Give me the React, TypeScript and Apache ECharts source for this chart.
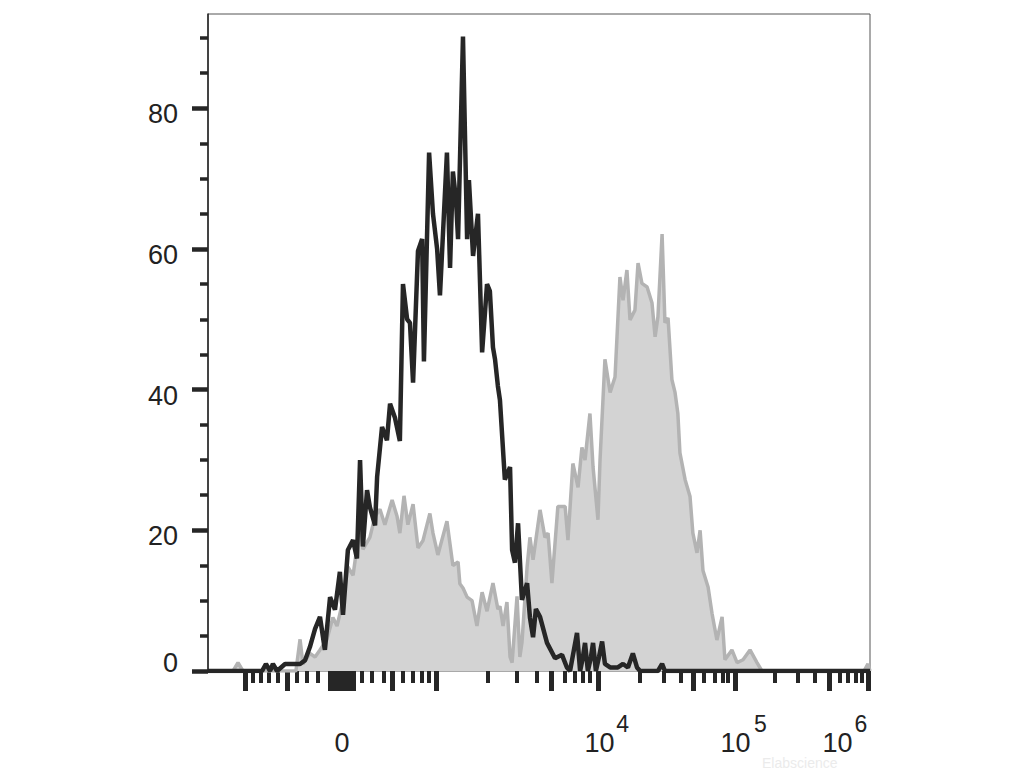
import React, { useEffect, useRef } from "react";
import * as echarts from "echarts";

// Display scale: 256 channels across the biexponential axis
const CHANNELS = 256;
const Y_MAX = 93.4;

// Unstained / isotype (black line) histogram: [channel, count]
const blackX = [0, 20.9, 22.4, 24.0, 25.1, 26.7, 29.8, 35.6, 37.5, 39.4, 41.4, 43.3, 45.2, 47.2, 49.1, 51.0, 52.2, 54.1, 56.1, 57.6, 58.8, 59.9, 61.5, 62.6, 64.6, 65.4, 67.3, 69.2, 70.4, 72.3, 74.2, 75.4, 77.0, 78.1, 79.3, 81.2, 82.8, 83.5, 85.5, 87.0, 88.6, 89.7, 92.4, 93.6, 94.7, 95.9, 96.7, 98.6, 100.2, 100.9, 102.5, 104.4, 106.0, 107.9, 109.0, 110.2, 111.0, 112.1, 112.9, 114.8, 116.8, 117.6, 118.7, 119.9, 121.4, 123.4, 124.5, 125.7, 126.8, 128.4, 131.1, 134.2, 136.9, 138.8, 140.0, 141.5, 142.7, 143.9, 145.0, 145.8, 146.9, 148.1, 148.9, 150.0, 151.2, 152.4, 153.5, 155.5, 158.5, 160.5, 162.4, 164.3, 165.9, 167.1, 174.0, 175.6, 176.7, 256];
const blackY = [0, 0, 1, 0, 1, 0, 1, 1, 1.5, 3.4, 6, 7.7, 3, 10.5, 8.7, 14.1, 8, 17.2, 18.6, 16, 30, 17.7, 25.7, 23.3, 20.7, 27.6, 34.7, 32.8, 38, 36, 32.7, 55, 50, 49.5, 41, 59.7, 61.4, 44, 73.7, 65, 60, 53.4, 73.7, 57.3, 71, 67, 61.4, 90.2, 61.4, 69.8, 59, 65, 45.3, 55, 54, 46, 44.3, 40.5, 38.5, 27.2, 29, 17.2, 15.4, 21, 10.1, 12.5, 7.6, 4.8, 8.8, 7.7, 4, 1.8, 2.3, 0.5, 0, 3, 5.4, 0, 2, 4, 0, 2, 4, 0, 2, 4.2, 1, 0.5, 0.5, 1, 0.5, 2.5, 0.5, 0, 0, 1, 0, 0];

// Stained sample (grey filled) histogram: [channel, count]
const grayX = [0, 9.7, 11.6, 13.5, 34.0, 35.6, 36.7, 39.4, 41.4, 43.3, 46.0, 48.3, 49.9, 52.2, 54.1, 56.1, 58.8, 59.9, 62.6, 64.6, 66.5, 68.4, 71.2, 73.1, 74.2, 75.8, 77.3, 79.3, 81.2, 83.1, 85.8, 87.0, 88.9, 92.4, 94.7, 96.7, 97.4, 98.6, 100.2, 102.1, 104.0, 106.0, 107.9, 110.2, 112.1, 112.9, 114.1, 115.6, 116.8, 117.6, 119.5, 120.6, 121.4, 123.4, 124.5, 125.7, 128.4, 130.3, 131.5, 133.0, 135.3, 138.1, 139.2, 141.1, 143.1, 144.6, 145.8, 147.7, 148.9, 150.8, 151.6, 153.5, 155.5, 157.4, 159.3, 160.5, 162.0, 163.2, 165.1, 166.3, 167.8, 169.8, 171.7, 172.9, 174.0, 175.6, 176.7, 177.9, 179.4, 180.6, 181.7, 182.5, 184.5, 186.4, 187.5, 189.1, 190.3, 191.4, 193.4, 194.9, 196.8, 198.8, 199.9, 202.6, 204.6, 206.9, 209.6, 212.3, 214.2, 253.7, 255.2, 256];
const grayY = [0, 0, 1.2, 0, 0, 4.5, 1, 2.5, 2, 3, 4.5, 7.6, 6.4, 10, 14.8, 13.6, 20.8, 17.3, 19, 22, 23, 20.8, 24.3, 22, 19.6, 24.9, 20.8, 23.7, 17.5, 18.5, 22.4, 19.6, 16.5, 21.3, 15, 15.5, 12.4, 11.8, 10.5, 10, 6.4, 11.2, 8.5, 12.5, 8.8, 9.2, 6.4, 9.8, 2, 1.2, 10.6, 2, 4, 14.8, 19, 15.8, 22.9, 19, 19.6, 12.5, 23.4, 23.4, 18.6, 29.5, 26.1, 31.8, 30, 36.6, 29, 21.5, 30, 44.3, 39.6, 41.8, 56, 52.7, 57, 49.9, 51.3, 58, 55.1, 54.6, 52.3, 47.5, 50.4, 62.1, 49.5, 50.2, 41.4, 39.6, 36.6, 31, 27.2, 24.8, 19.6, 16.8, 20, 14.3, 11.9, 8.2, 4.4, 7.7, 1.6, 3, 1.2, 1.6, 3, 1.2, 0, 0, 1, 0];

// Y axis ticks / labels
const yMajorTicks = [0, 20, 40, 60, 80];
const yMinorTicks = [5, 10, 15, 25, 30, 35, 45, 50, 55, 65, 70, 75, 85, 90];

// X axis (biexponential) ticks, in channels
const xMajorTicks = [14.5, 30.8, 47.2, 48.5, 49.9, 51.2, 52.6, 53.9, 55.3, 56.1, 71.3, 88.4, 132.8, 151.0, 187.7, 204.0, 240.1, 255.2];
const xMinorTicks = [17.2, 20.5, 23.6, 27.1, 34.4, 38.3, 42.5, 59.6, 63.4, 68.1, 75.4, 79.3, 82.8, 85.5, 108.3, 119.5, 127.2, 138.1, 141.9, 145.0, 147.7, 167.1, 176.3, 182.7, 191.8, 196.1, 199.0, 201.1, 219.3, 228.2, 234.7, 244.2, 247.5, 250.4, 252.7];

// X axis labels: base text and decade exponent
const xBaseLabelPos = [51.8, 151.4, 204.0, 243.4];
const xBaseLabels = ["0", "10", "10", "10"];
const xExpLabelPos = [160.3, 213.6, 252.5];
const xExpLabels = ["4", "5", "6"];

const FONT = "'Liberation Sans', Arial, Helvetica, sans-serif";
const INK = "#262626";

function pick(pos: number[], labels: string[], v: number): string {
  const i = pos.findIndex((p) => Math.abs(p - v) < 0.05);
  return i >= 0 ? labels[i] : "";
}

export default function App() {
  const ref = useRef<HTMLDivElement>(null);
  useEffect(() => {
    if (!ref.current) return;
    const chart = echarts.init(ref.current, null, { renderer: "svg" });
    const blackData = blackX.map((x, i) => [x, blackY[i]]);
    const grayData = grayX.map((x, i) => [x, grayY[i]]);
    const baseX = {
      type: "value",
      min: 0,
      max: CHANNELS,
      position: "bottom",
      axisLine: { show: false },
      splitLine: { show: false },
    };
    chart.setOption({
      animation: false,
      backgroundColor: "#ffffff",
      grid: {
        left: 208,
        right: 161,
        top: 14,
        bottom: 102,
        show: true,
        borderColor: "#555",
        borderWidth: 1,
      },
      xAxis: [
        {
          ...baseX,
          axisTick: { show: true, customValues: xMajorTicks, length: 20, lineStyle: { color: INK, width: 5 } },
          axisLabel: { show: false },
        },
        {
          ...baseX,
          axisTick: { show: true, customValues: xMinorTicks, length: 12, lineStyle: { color: INK, width: 4 } },
          axisLabel: { show: false },
        },
        {
          ...baseX,
          axisTick: { show: false },
          axisLabel: {
            show: true,
            customValues: xBaseLabelPos,
            margin: 58,
            fontSize: 27,
            fontFamily: FONT,
            color: "#222",
            formatter: (v: number) => pick(xBaseLabelPos, xBaseLabels, v),
          },
        },
        {
          ...baseX,
          axisTick: { show: false },
          axisLabel: {
            show: true,
            customValues: xExpLabelPos,
            margin: 41,
            fontSize: 23,
            fontFamily: FONT,
            color: "#222",
            formatter: (v: number) => pick(xExpLabelPos, xExpLabels, v),
          },
        },
      ],
      yAxis: [
        {
          type: "value",
          min: 0,
          max: Y_MAX,
          position: "left",
          axisLine: { show: true, onZero: false, lineStyle: { color: "#222", width: 1.5 } },
          axisTick: { show: true, customValues: yMajorTicks, length: 16, lineStyle: { color: INK, width: 4.5 } },
          axisLabel: {
            show: true,
            customValues: yMajorTicks,
            margin: 30,
            fontSize: 27,
            fontFamily: FONT,
            color: "#222",
            formatter: (v: number) => (v === 0 ? "{z|0}" : "{n|" + v + "}"),
            rich: {
              n: { fontSize: 27, fontFamily: FONT, color: "#222", padding: [12, 0, 0, 0] },
              z: { fontSize: 27, fontFamily: FONT, color: "#222", padding: [0, 0, 16, 0] },
            },
          },
          splitLine: { show: false },
        },
        {
          type: "value",
          min: 0,
          max: Y_MAX,
          position: "left",
          axisLine: { show: false },
          axisTick: { show: true, customValues: yMinorTicks, length: 8, lineStyle: { color: INK, width: 3.5 } },
          axisLabel: { show: false },
          splitLine: { show: false },
        },
      ],
      graphic: [
        {
          type: "text",
          left: 762,
          top: 756,
          silent: true,
          z: -1,
          style: { text: "Elabscience", fill: "#ebebeb", fontSize: 14, fontFamily: FONT },
        },
      ],
      series: [
        {
          name: "Stained",
          type: "line",
          xAxisIndex: 0,
          yAxisIndex: 0,
          data: grayData,
          showSymbol: false,
          symbol: "none",
          lineStyle: { color: "#b3b3b3", width: 3.5 },
          areaStyle: { color: "#d3d3d3", opacity: 1 },
          z: 2,
        },
        {
          name: "Control",
          type: "line",
          xAxisIndex: 0,
          yAxisIndex: 0,
          data: blackData,
          showSymbol: false,
          symbol: "none",
          lineStyle: { color: INK, width: 4.5 },
          z: 3,
        },
      ],
    });
    return () => chart.dispose();
  }, []);
  return (
    <div
      ref={ref}
      style={{ position: "fixed", left: 0, top: 0, width: 1031, height: 773 }}
    />
  );
}
